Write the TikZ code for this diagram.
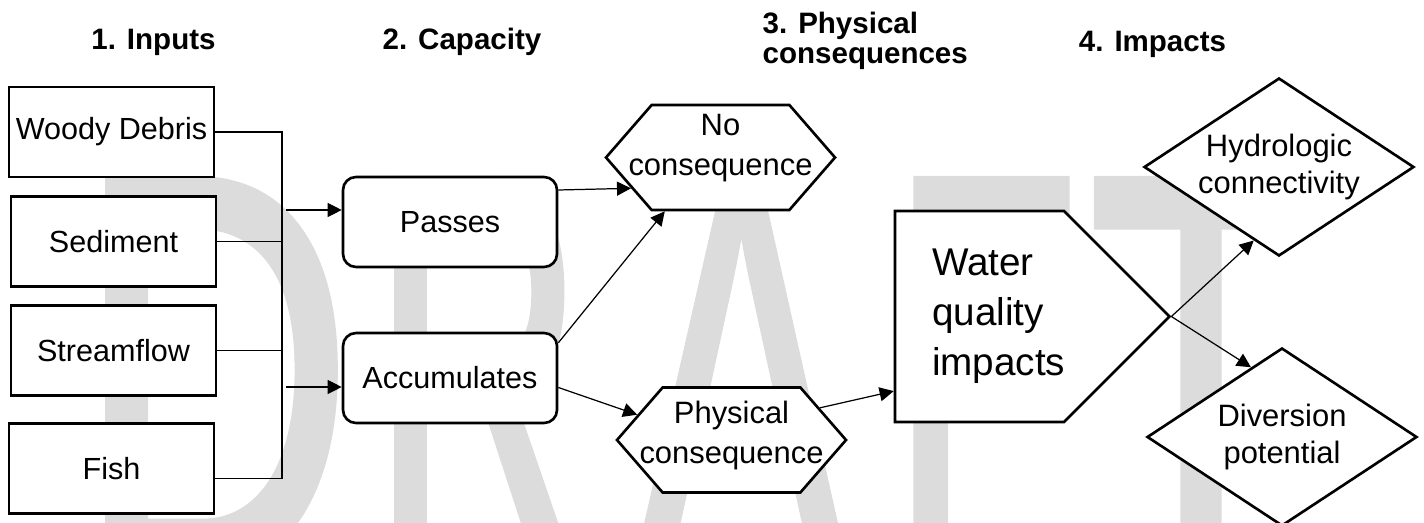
\documentclass[tikz,border=0pt]{standalone}
\usepackage{fontspec}
\setmainfont{Liberation Sans}
\newfontface\draftface{Liberation Sans}[FakeBold=2]
\usetikzlibrary{arrows.meta,shapes.geometric,shapes.symbols}

\definecolor{draftgray}{HTML}{DCDCDC}

% zero-width lines, so the text does not widen a shape
\newcommand{\zline}[1]{\makebox[0pt]{#1}}
\newcommand{\lline}[1]{\hspace*{3.7mm}\makebox[0pt][l]{#1}}
\newcommand{\wmark}[2]{\scalebox{#1}[1]{#2}}

\tikzset{
    inbox/.style={draw=black,line width=0.75pt,fill=white,minimum width=2.05cm,minimum height=0.9cm,inner sep=1pt,font=\fontsize{8.7}{11}\selectfont},
    capbox/.style={inbox,rounded corners=0.13cm,minimum width=2.14cm},
    hexbox/.style={draw=black,line width=0.75pt,fill=white,signal,signal to=west and east,signal pointer angle=98,minimum width=2.29cm,minimum height=1.05cm,inner sep=0pt,text depth=0.15cm,align=center,font=\fontsize{8.8}{11.4}\selectfont},
    impbox/.style={draw=black,line width=0.75pt,fill=white,diamond,aspect=1.52,minimum width=2.7cm,minimum height=1.78cm,inner sep=0pt,align=center,font=\fontsize{8.8}{10.8}\selectfont},
    head/.style={font=\fontsize{8.4}{8.6}\selectfont\bfseries,inner sep=0pt},
    link/.style={draw=black,line width=0.35pt},
    arr/.style={link,-{Triangle[length=4pt,width=4pt]}},
    draft/.style={text=draftgray,inner sep=0pt,anchor=base,font=\fontsize{159}{159}\draftface}
}

\begin{document}
\begin{tikzpicture}
    \useasboundingbox (0,0) rectangle (14.24,-5.23);

    % Watermark
    \begin{scope}
        \clip (0,0) rectangle (14.24,-5.23);
        \node[draft] (wmd) at (2.15,-5.66) {\wmark{0.68}{D}};
        \node[draft] (wmr) at (4.78,-5.66) {\wmark{0.52}{R}};
        \node[draft] (wma) at (7.41,-5.66) {\wmark{0.557}{A}};
        \node[draft] (wmf) at (9.85,-5.66) {\wmark{0.55}{F}};
        \node[draft] (wmt) at (12.01,-5.66) {\wmark{0.655}{T}};
    \end{scope}

    % Column headings
    \node[head,anchor=base] (hin) at (1.535,-0.50) {1. Inputs};
    \node[head,anchor=base] (hcap) at (4.62,-0.50) {2. Capacity};
    \node[head,anchor=base west,align=left] (hphy) at (7.62,-0.64) {3. Physical\\consequences};
    \node[head,anchor=base] (himp) at (11.525,-0.52) {4. Impacts};

    % Inputs
    \node[inbox] (wood) at (1.115,-1.32) {Woody Debris};
    \node[inbox] (sed) at (1.135,-2.415) {Sediment};
    \node[inbox] (flow) at (1.135,-3.505) {Streamflow};
    \node[inbox] (fish) at (1.115,-4.685) {Fish};

    % Capacity
    \node[capbox] (passes) at (4.50,-2.22) {Passes};
    \node[capbox] (accum) at (4.50,-3.78) {Accumulates};

    % Physical consequences
    \node[hexbox,text depth=0.26cm] (nocons) at (7.205,-1.575) {\zline{No}\\\zline{consequence}};
    \node[hexbox] (phys) at (7.315,-4.40) {\zline{Physical}\\\zline{consequence}};
    \node[draw=black,line width=0.75pt,fill=white,signal,signal to=east,signal pointer angle=90,
          minimum width=2.7cm,minimum height=2.11cm,inner sep=0pt,text width=1.69cm,align=left,
          font=\fontsize{11}{14.2}\selectfont] (wq) at (9.795,-3.165)
          {\lline{Water}\\\lline{quality}\\\lline{impacts}};

    % Impacts
    \node[impbox] (hydro) at (12.79,-1.67) {Hydrologic\\connectivity};
    \node[impbox] (divert) at (12.82,-4.37) {Diversion\\potential};

    % Input bus
    \coordinate (bus) at (2.82,0);
    \coordinate (busP) at (2.86,-2.10);
    \coordinate (busA) at (2.86,-3.87);
    \draw[link] (wood.east) -- (wood.east -| bus) -- ([yshift=-1mm]fish.east -| bus) -- ([yshift=-1mm]fish.east);
    \foreach \src in {sed,flow} {
        \draw[link] (\src.east) -- (\src.east -| bus);
    }
    \draw[arr] (busP) -- (busP -| passes.west);
    \draw[arr] (busA) -- (busA -| accum.west);

    % Capacity to consequences
    \draw[arr] ([yshift=3.2mm]passes.east) -- (nocons.199);
    \draw[arr] (accum.18) -- (nocons.224);
    \draw[arr] (accum.-5) -- (phys.165);
    \draw[arr] (phys.20) -- (wq.221);

    % Consequences to impacts
    \draw[arr] (wq.east) -- (hydro.251);
    \draw[arr] (wq.east) -- (divert.114);

\end{tikzpicture}
\end{document}
